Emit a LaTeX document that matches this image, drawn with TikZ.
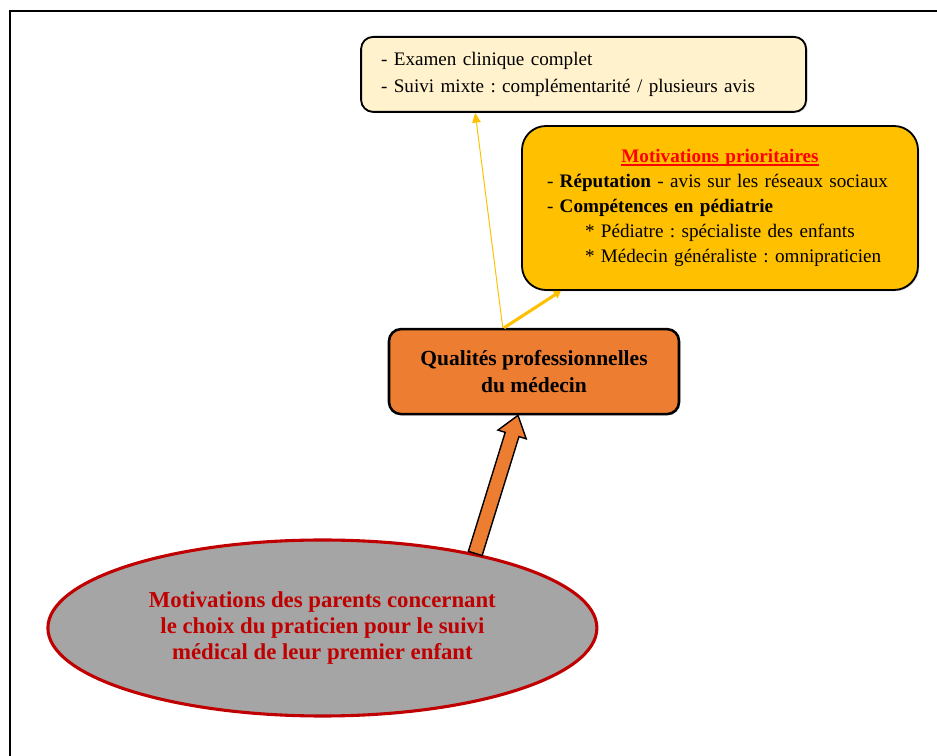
\documentclass[tikz,border=0pt]{standalone}
\usepackage{fontspec}
\setmainfont{Liberation Serif}
\frenchspacing
\usetikzlibrary{shapes.geometric,arrows.meta,calc,shadows}
\definecolor{creme}{HTML}{FFF2CC}
\definecolor{jaune}{HTML}{FFC000}
\definecolor{orangebox}{HTML}{ED7D31}
\definecolor{grisell}{HTML}{A5A5A5}
\definecolor{rougef}{HTML}{C00000}
\newcommand{\souligne}[1]{\begingroup\setbox0=\hbox{#1}\rlap{\rule[-2.6pt]{\wd0}{1.4pt}}\box0\endgroup}
\tikzset{
    every node/.style={inner sep=0mm, font=\fontsize{13.6}{18.9}\selectfont},
    boite/.style={rectangle, draw, line width=1.3pt,
        drop shadow={shadow xshift=.9pt, shadow yshift=-.9pt, opacity=.3}}
}
\tikzset{fleche/.style={draw=jaune, -{Triangle[length=7pt, width=6pt]}}}

\begin{document}
\begin{tikzpicture}
    \useasboundingbox (0cm, 0cm) rectangle (23.425cm, 18.9cm);
    \draw[line width=1pt] (0.25cm, -0.5cm) -- (0.25cm, 18.625cm) -- (24cm, 18.625cm);

    \node (exam) [boite, fill=creme, rounded corners=0.3cm, minimum width=11.125cm, minimum height=1.875cm,
        text width=10.125cm, align=left] at (14.59cm, 17.04cm)
        {- Examen clinique complet\\- Suivi mixte : complémentarité / plusieurs avis};

    \node (motiv) [boite, fill=jaune, rounded corners=0.6cm, minimum width=9.9cm, minimum height=4.1cm,
        text width=8.65cm, align=left, font=\fontsize{13.6}{17.7}\selectfont] at (18.0cm, 13.7cm)
        {\makebox[8.65cm][c]{\textcolor{red}{\souligne{\textbf{Motivations prioritaires}}}}\\
        - \textbf{Réputation} - avis sur les réseaux sociaux\\
        - \textbf{Compétences en pédiatrie}\\
        \hspace*{0.95cm}* Pédiatre : spécialiste des enfants\\
        \hspace*{0.95cm}* Médecin généraliste : omnipraticien};

    \node (qual) [boite, fill=orangebox, rounded corners=0.3cm, line width=1.8pt, minimum width=7.25cm,
        minimum height=2.125cm, align=center, font=\fontsize{15.3}{19.8}\selectfont\bfseries] at (13.35cm, 9.61cm)
        {Qualités professionnelles\\du médecin};

    \node (ell) [ellipse, draw=rougef, fill=grisell, line width=2.2pt, minimum width=13.725cm, minimum height=4.4cm,
        align=center, text=rougef, font=\fontsize{16.2}{18.6}\selectfont\bfseries] at (8.06cm, 3.2cm)
        {Motivations des parents concernant\\le choix du praticien pour le suivi\\médical de leur premier enfant};

    \coordinate (a) at (ell.26);
    \coordinate (b) at ([xshift=-0.4cm]qual.south);
    \coordinate (h) at ($(b)!0.5cm!(a)$);
    \filldraw[fill=orangebox, draw=black, line width=1pt, line join=miter]
        ($(a)!0.18cm!90:(b)$) -- ($(h)!0.18cm!-90:(a)$) -- ($(h)!0.37cm!-90:(a)$) -- (b)
        -- ($(h)!0.37cm!90:(a)$) -- ($(h)!0.18cm!90:(a)$) -- ($(a)!0.18cm!-90:(b)$) -- cycle;

    \draw[fleche, line width=0.7pt] ([xshift=-0.78cm]qual.north) -- ([xshift=-2.71cm]exam.south);
    \draw[fleche, line width=2.2pt, -{Triangle[length=5pt, width=6pt]}] ([xshift=-0.75cm]qual.north) -- ([xshift=-3.975cm]motiv.south);
\end{tikzpicture}
\end{document}
